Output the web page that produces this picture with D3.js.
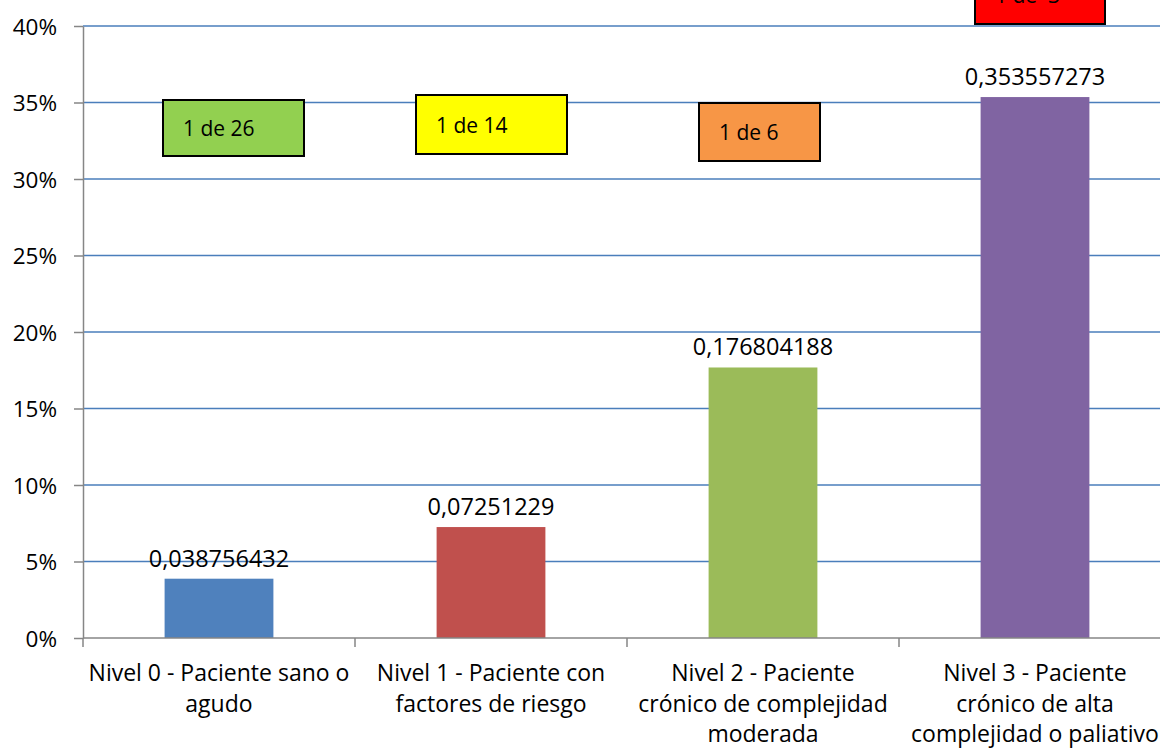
<!DOCTYPE html>
<html>
<head>
<meta charset="utf-8">
<script src="https://cdn.jsdelivr.net/npm/d3@7"></script>
<style>
  body { margin: 0; background: #fff; }
  svg { display: block; font-family: "Open Sans", sans-serif; }
</style>
</head>
<body>
<script>
var width = 1160;
var height = 749;
var margin = {top: 26, left: 83, right: -11, bottom: 111};

// data
var categories = ["n0", "n1", "n2", "n3"];
var categoryLines = [
  ["Nivel 0 - Paciente sano o", "agudo"],
  ["Nivel 1 - Paciente con", "factores de riesgo"],
  ["Nivel 2 - Paciente", "crónico de complejidad", "moderada"],
  ["Nivel 3 - Paciente", "crónico de alta", "complejidad o paliativo"]
];
var values = [0.038756432, 0.07251229, 0.176804188, 0.353557273];
var valueLabels = ["0,038756432", "0,07251229", "0,176804188", "0,353557273"];
var barColors = ["#4f81bd", "#c0504d", "#9bbb59", "#8064a2"];
var yTicks = [0, 0.05, 0.10, 0.15, 0.20, 0.25, 0.30, 0.35, 0.40];
var boxTexts = ["1 de 26", "1 de 14", "1 de 6", "1 de  3"];
var boxColors = ["#92d050", "#ffff00", "#f79646", "#ff0000"];

var svg = d3.select("body")
  .append("svg")
  .attr("width", width)
  .attr("height", height);

var xScale = d3.scaleBand()
  .domain(categories)
  .range([margin.left, width - margin.right])
  .paddingInner(0);

var yScale = d3.scaleLinear()
  .domain([0, 0.4])
  .range([height - margin.bottom, margin.top]);

// gridlines
svg.append("g")
  .selectAll("line")
  .data(yTicks.slice(1))
  .enter()
  .append("line")
    .attr("x1", margin.left)
    .attr("x2", width)
    .attr("y1", function(d) { return yScale(d); })
    .attr("y2", function(d) { return yScale(d); })
    .attr("stroke", "#4a7ebb")
    .attr("stroke-width", 1.5);

// y axis
var yAxis = svg.append("g")
  .attr("transform", `translate(${margin.left},0)`)
  .call(d3.axisLeft(yScale).tickValues(yTicks).tickSize(9).tickSizeOuter(0)
    .tickFormat(function(d) { return Math.round(d * 100) + "%"; }));
yAxis.select(".domain").attr("stroke", "#868686").attr("stroke-width", 1.5);
yAxis.selectAll(".tick line").attr("stroke", "#868686").attr("stroke-width", 1.5);
yAxis.selectAll(".tick text")
  .attr("x", -26)
  .attr("dy", "0.36em")
  .attr("font-size", 22.5)
  .attr("font-family", "Open Sans")
  .attr("fill", "#000");

// bars
var barW = xScale.bandwidth() * 0.4;
svg.selectAll("rect.bar")
  .data(values)
  .enter()
  .append("rect")
    .attr("class", "bar")
    .attr("x", function(d, i) { return xScale(categories[i]) + (xScale.bandwidth() - barW) / 2; })
    .attr("y", function(d) { return yScale(d); })
    .attr("width", barW)
    .attr("height", function(d) { return yScale(0) - yScale(d); })
    .attr("fill", function(d, i) { return barColors[i]; });

// x axis
var x0 = yScale(0);
svg.append("line")
  .attr("x1", margin.left).attr("x2", width)
  .attr("y1", x0).attr("y2", x0)
  .attr("stroke", "#868686").attr("stroke-width", 1.5);
svg.selectAll("line.ctick")
  .data(categories)
  .enter()
  .append("line")
    .attr("class", "ctick")
    .attr("x1", function(d) { return xScale(d); })
    .attr("x2", function(d) { return xScale(d); })
    .attr("y1", x0).attr("y2", x0 + 9)
    .attr("stroke", "#868686").attr("stroke-width", 1.5);

// category labels
svg.selectAll("text.cat")
  .data(categoryLines)
  .enter()
  .append("text")
    .attr("class", "cat")
    .attr("text-anchor", "middle")
    .attr("font-size", 23)
    .attr("fill", "#000")
    .each(function(lines, i) {
      var cx = xScale(categories[i]) + xScale.bandwidth() / 2;
      d3.select(this).selectAll("tspan")
        .data(lines)
        .enter()
        .append("tspan")
          .attr("x", cx)
          .attr("y", function(l, j) { return x0 + 43 + j * 30.5; })
          .text(function(l) { return l; });
    });

// value labels
svg.selectAll("text.val")
  .data(values)
  .enter()
  .append("text")
    .attr("class", "val")
    .attr("text-anchor", "middle")
    .attr("font-size", 23.5)
    .attr("fill", "#000")
    .attr("x", function(d, i) { return xScale(categories[i]) + xScale.bandwidth() / 2; })
    .attr("y", function(d) { return yScale(d) - 12; })
    .text(function(d, i) { return valueLabels[i]; });

// annotation boxes (layout offsets relative to each band)
var boxLayout = [
  {dx: 80, top: 100, w: 141, h: 56},
  {dx: 61, top: 95, w: 151, h: 59},
  {dx: 72, top: 103, w: 121, h: 58},
  {dx: 76, top: -34, w: 130, h: 58}
];
var boxes = svg.selectAll("g.box")
  .data(boxTexts)
  .enter()
  .append("g")
    .attr("class", "box")
    .attr("transform", function(d, i) {
      return `translate(${xScale(categories[i]) + boxLayout[i].dx},${boxLayout[i].top})`;
    });
boxes.append("rect")
  .attr("width", function(d, i) { return boxLayout[i].w; })
  .attr("height", function(d, i) { return boxLayout[i].h; })
  .attr("fill", function(d, i) { return boxColors[i]; })
  .attr("stroke", "#000")
  .attr("stroke-width", 2);
boxes.append("text")
  .attr("x", 20)
  .attr("y", function(d, i) { return boxLayout[i].h / 2 + 8; })
  .attr("font-size", 21)
  .attr("fill", "#000")
  .attr("xml:space", "preserve")
  .style("white-space", "pre")
  .text(function(d) { return d; });
</script>
</body>
</html>
